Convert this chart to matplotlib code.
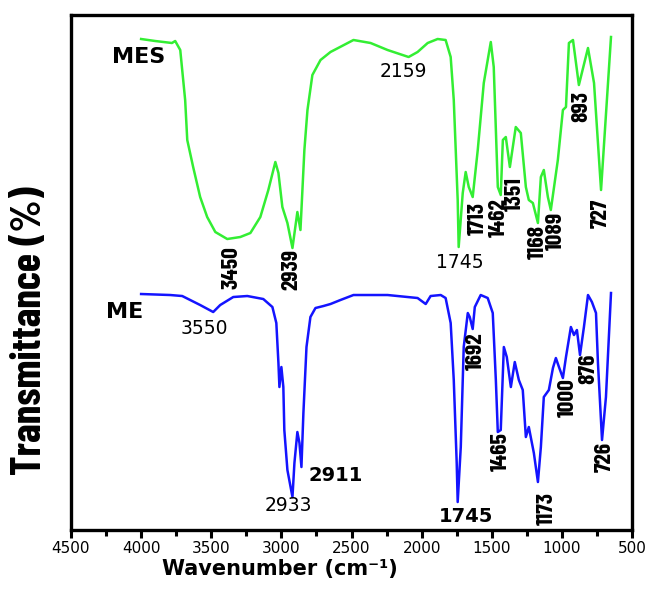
import matplotlib
matplotlib.use("Agg")
import matplotlib.pyplot as plt
from matplotlib.ticker import MultipleLocator

# ── données (nombre d'onde en cm-1, transmittance en u.a.) ──
mes_wn = [4000, 3900, 3780, 3757, 3721, 3686, 3671, 3629, 3579, 3529, 3471, 3386,
          3293, 3221, 3150, 3093, 3043, 3021, 2993, 2957, 2921, 2886, 2864, 2836,
          2814, 2779, 2721, 2650, 2486, 2364, 2243, 2093, 2029, 1957, 1886, 1829,
          1793, 1771, 1743, 1736, 1707, 1686, 1664, 1636, 1600, 1557, 1507, 1486,
          1457, 1436, 1421, 1400, 1371, 1329, 1293, 1257, 1236, 1207, 1171, 1150,
          1129, 1100, 1079, 1029, 993, 971, 950, 921, 879, 814, 771, 721, 650]
mes_T = [98.2, 97.8, 97.4, 97.8, 96, 86, 78, 72.6, 66.6, 62.6, 59.6, 58.2,
         58.6, 59.4, 62.6, 68, 73.6, 71.4, 64.6, 61.4, 56.4, 63.6, 60, 76,
         84, 91, 94, 95.6, 98, 97.4, 96, 94.6, 95.6, 97.4, 98.2, 98,
         94.6, 86, 66, 56.6, 67.4, 71.6, 68.6, 66.6, 76, 89.4, 97.6, 92.6,
         68.6, 67, 78, 78.6, 72.6, 80.6, 79.4, 68.6, 66, 65.4, 61.4, 70.6,
         72, 66.6, 64, 74, 84, 84.6, 97.4, 98, 89, 96.4, 89.4, 68, 98.6]

me_wn = [4000, 3793, 3707, 3650, 3579, 3486, 3436, 3343, 3243, 3129, 3064, 3036,
         3021, 3014, 3000, 2986, 2979, 2957, 2921, 2907, 2886, 2871, 2857, 2843,
         2821, 2793, 2757, 2700, 2650, 2579, 2486, 2243, 2029, 1971, 1936, 1864,
         1829, 1793, 1771, 1750, 1743, 1721, 1700, 1671, 1657, 1636, 1621, 1579,
         1529, 1493, 1471, 1457, 1436, 1414, 1393, 1364, 1336, 1307, 1279, 1257,
         1236, 1200, 1171, 1150, 1129, 1093, 1064, 1043, 1021, 993, 971, 936,
         914, 893, 871, 843, 814, 786, 757, 743, 714, 686, 650]
me_T = [47.2, 47, 46.8, 46, 45, 43.6, 45, 46.6, 46.8, 46.2, 44.6, 41.4,
        33.4, 28.6, 32.6, 28.6, 20, 12, 6.6, 13.4, 19.6, 17.4, 12.6, 23.4,
        36.6, 42.6, 44.4, 44.8, 45.2, 46, 47, 47, 46.4, 45.2, 46.8, 47,
        46.4, 41.4, 30, 13.4, 5.6, 16.6, 36.6, 43.4, 42.6, 40.2, 44.6, 47,
        46.4, 43.4, 30, 19.6, 20, 36.6, 34.6, 28.6, 33.6, 30, 28, 18.6,
        20.6, 15.4, 9.6, 16.6, 26.6, 28, 32.4, 34.4, 32.6, 30.4, 34.6, 40.6,
        39, 40, 35, 40.6, 47, 45.6, 43.4, 33.4, 18, 26.6, 47.4]

# étiquettes verticales des pics : (texte, x, y)
mes_peaks_v = [("3450", 3357, 52.4), ("2939", 2929, 52.2), ("1713", 1600, 62.4),
               ("1462", 1450, 62.4), ("1351", 1336, 67.2), ("1168", 1171, 57.6),
               ("1089", 1043, 59.8), ("893", 864, 84.8), ("727", 721, 63.4)]
me_peaks_v = [("1692", 1614, 35.8), ("1465", 1436, 15.6), ("1173", 1107, 4.4),
              ("1000", 957, 26.4), ("876", 814, 32.2), ("726", 693, 14.6)]
# étiquettes horizontales : (texte, x, y, gras)
peaks_h = [("2159", 2129, 91.8, False), ("1745", 1729, 53.6, False),
           ("3550", 3550, 40.4, False), ("2933", 2950, 5.0, False),
           ("2911", 2614, 11.0, True), ("1745", 1686, 2.8, True)]
series_names = [("MES", 4021, 94.6), ("ME", 4121, 43.6)]

GREEN = "#33ee33"
BLUE = "#1414ff"
NARROW = ["Barlow Condensed", "DejaVu Sans"]
WIDE = ["DejaVu Sans"]

fig = plt.figure(figsize=(6.53, 5.93), dpi=100)
ax = fig.add_axes([0.1087, 0.1062, 0.8592, 0.8685])

ax.plot(mes_wn, mes_T, color=GREEN, lw=1.8)
ax.plot(me_wn, me_T, color=BLUE, lw=1.8)

ax.set_xlim(4500, 500)
ax.set_ylim(0, 103)
ax.xaxis.set_major_locator(MultipleLocator(500))
ax.xaxis.set_minor_locator(MultipleLocator(250))
ax.set_yticks([])
ax.tick_params(axis='x', which='major', direction='out', length=6, width=2.2,
               labelsize=11, pad=2)
ax.tick_params(axis='x', which='minor', direction='out', length=4, width=2.2)
for lab in ax.get_xticklabels():
    lab.set_family(WIDE)
for sp in ax.spines.values():
    sp.set_linewidth(2.4)

for txt, x, y in mes_peaks_v + me_peaks_v:
    ax.text(x, y, txt, rotation=90, ha='center', va='center', fontsize=17,
            fontweight='bold', family=NARROW)
for txt, x, y, bold in peaks_h:
    ax.text(x, y, txt, ha='center', va='center', family=WIDE,
            fontsize=14 if bold else 13.5,
            fontweight='bold' if bold else 'normal')
for txt, x, y in series_names:
    ax.text(x, y, txt, ha='center', va='center', fontsize=16,
            fontweight='bold', family=WIDE)

ax.text(-0.073, 0.388, "Transmittance (%)", transform=ax.transAxes, rotation=90,
        ha='center', va='center', fontsize=30, fontweight='bold', family=NARROW)
ax.text(0.3725, -0.0757, "Wavenumber (cm\u207b\u00b9)", transform=ax.transAxes,
        ha='center', va='center', fontsize=15, fontweight='bold', family=WIDE)

plt.savefig("out.png", dpi=100)
